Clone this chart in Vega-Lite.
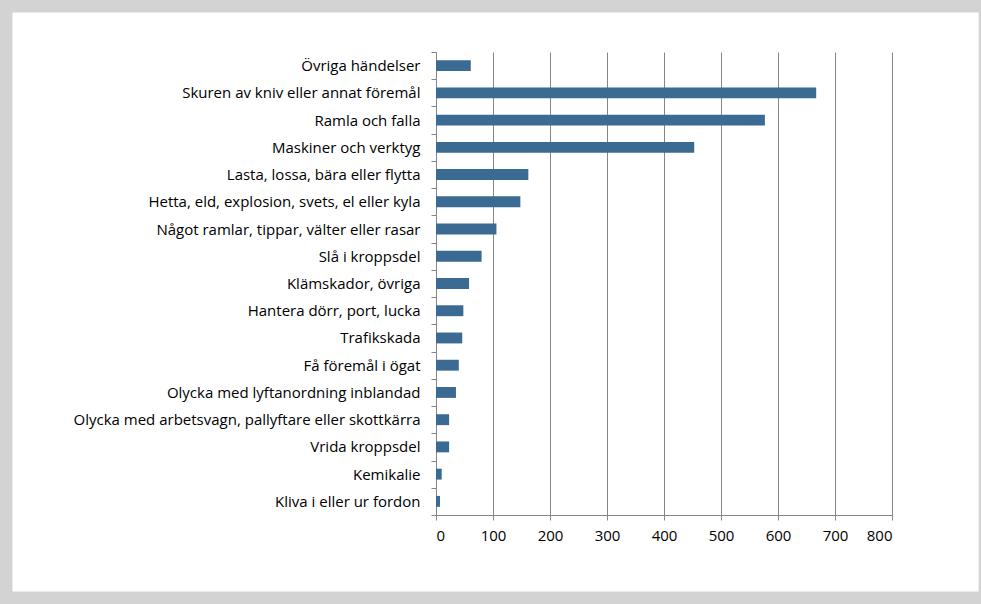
{
  "$schema": "https://vega.github.io/schema/vega-lite/v6.json",
  "width": 456,
  "height": 463,
  "autosize": {"type": "none"},
  "padding": {"left": 436, "top": 52, "right": 89, "bottom": 89},
  "background": "white",
  "config": {
    "view": {"stroke": null},
    "font": "Open Sans",
    "axis": {"labelFont": "Open Sans", "labelFontSize": 15, "labelColor": "#000000", "domainColor": "#868686", "tickColor": "#868686", "gridColor": "#868686"}
  },
  "layer": [
    {
      "data": {"values": [
        {"kategori": "Övriga händelser", "antal": 61},
        {"kategori": "Skuren av kniv eller annat föremål", "antal": 667},
        {"kategori": "Ramla och falla", "antal": 577},
        {"kategori": "Maskiner och verktyg", "antal": 453},
        {"kategori": "Lasta, lossa, bära eller flytta", "antal": 162},
        {"kategori": "Hetta, eld, explosion, svets, el eller kyla", "antal": 148},
        {"kategori": "Något ramlar, tippar, välter eller rasar", "antal": 106},
        {"kategori": "Slå i kroppsdel", "antal": 80},
        {"kategori": "Klämskador, övriga", "antal": 58},
        {"kategori": "Hantera dörr, port, lucka", "antal": 48},
        {"kategori": "Trafikskada", "antal": 46},
        {"kategori": "Få föremål i ögat", "antal": 40},
        {"kategori": "Olycka med lyftanordning inblandad", "antal": 35},
        {"kategori": "Olycka med arbetsvagn, pallyftare eller skottkärra", "antal": 23},
        {"kategori": "Vrida kroppsdel", "antal": 23},
        {"kategori": "Kemikalie", "antal": 10},
        {"kategori": "Kliva i eller ur fordon", "antal": 7}
      ]},
      "mark": {"type": "bar", "height": {"band": 0.4}, "color": "#3b6a93"},
      "encoding": {
        "y": {
          "field": "kategori", "type": "nominal", "sort": null,
          "scale": {"paddingInner": 0, "paddingOuter": 0},
          "axis": {"title": null, "tickBand": "extent", "tickSize": 5, "labelPadding": 11, "domainWidth": 1, "labelLimit": 500}
        },
        "x": {
          "field": "antal", "type": "quantitative",
          "scale": {"domain": [0, 800], "nice": false},
          "axis": {"title": null, "values": [0,100,200,300,400,500,600,700,800], "grid": true, "tickSize": 5, "labelPadding": 8}
        }
      }
    },
    {
      "data": {"values": [{}]},
      "mark": {"type": "rect", "fill": null, "stroke": "#d3d3d3", "strokeWidth": 25, "clip": false},
      "encoding": {
        "x": {"datum": -765, "type": "quantitative"},
        "x2": {"datum": 974},
        "y": {"datum": 1.1123, "type": "quantitative", "scale": {"domain": [0, 1], "nice": false, "zero": false}, "axis": null},
        "y2": {"datum": -0.1922}
      }
    }
  ],
  "resolve": {"scale": {"y": "independent"}, "axis": {"y": "independent"}}
}
